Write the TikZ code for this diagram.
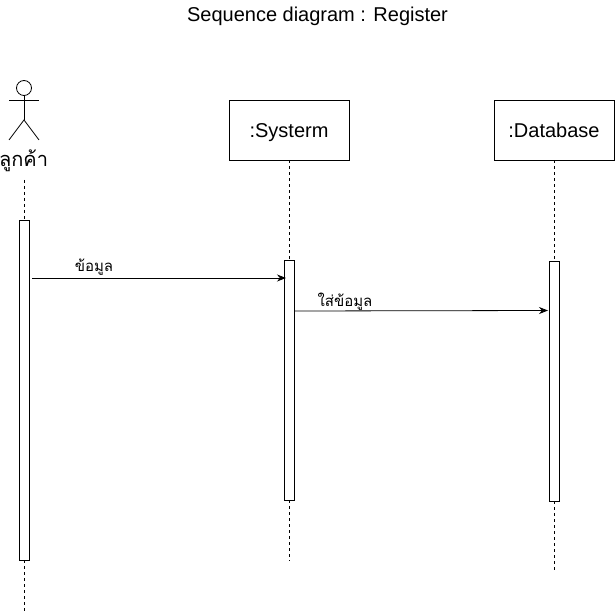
\documentclass[tikz,border=0pt]{standalone}
\usepackage{fontspec}
\setmainfont{Liberation Sans}
\newfontfamily\thaifont[Script=Thai]{Loma}
\usetikzlibrary{arrows.meta, positioning}

\begin{document}
\begin{tikzpicture}[x=1pt, y=-1pt, line width=0.8pt,
  obj/.style={draw,minimum width=120pt,minimum height=60pt,inner sep=0pt,text height=14.5pt,text depth=0pt,font=\fontsize{20}{24}\selectfont},
  bar/.style={draw,fill=white,minimum width=10pt,inner sep=0pt},
  life/.style={dash pattern=on 3pt off 3pt,line width=0.7pt},
  msg/.style={-{Stealth[length=9pt,width=7pt]}},
  lbl/.style={inner sep=0pt,font=\thaifont\fontsize{15}{18}\selectfont}]
  \useasboundingbox (0,0) rectangle (615,612);
  \node[font=\fontsize{20}{24}\selectfont] (title) at (317.5,16) {Sequence diagram : Register};

  % actor
  \node[draw,circle,minimum size=15pt,inner sep=0pt] (head) at (24,88) {};
  \coordinate (hip) at (24,120);
  \coordinate (armL) at (9,100);
  \coordinate (armR) at (39,100);
  \coordinate (legL) at (9,140);
  \coordinate (legR) at (39,140);
  \draw (head.south)--(hip);
  \draw (armL)--(armR);
  \draw (legL)--(hip)--(legR);
  \node[inner sep=0pt,font=\thaifont\fontsize{20}{24}\selectfont] (cust) at (23.5,161) {ลูกค้า};

  % objects
  \node[obj] (sys) at (289,130) {:Systerm};
  \node[obj] (db) at (554,130) {:Database};

  % activation bars
  \node[bar,minimum height=340pt] (barC) at (24,390) {};
  \node[bar,minimum height=240pt] (barS) at (289,380) {};
  \node[bar,minimum height=240pt] (barD) at (554,381) {};

  % lifelines
  \coordinate (custTop) at (24,180);
  \coordinate (custEnd) at (24,612);
  \coordinate (sysEnd) at (289,561);
  \coordinate (dbEnd) at (554,571);
  \draw[life] (custTop)--(barC.north);
  \draw[life] (barC.south)--(custEnd);
  \draw[life] (sys.south)--(barS.north);
  \draw[life] (barS.south)--(sysEnd);
  \draw[life] (db.south)--(barD.north);
  \draw[life] (barD.south)--(dbEnd);

  % messages
  \coordinate (m1a) at (32,278);
  \coordinate (m1b) at (286,278);
  \coordinate (m2a) at (294,311);
  \coordinate (m2b) at (548,310.5);
  \draw[msg] (m1a)--(m1b);
  \draw[msg] (m2a)--(m2b);
  \node[lbl] (m1) at (94,267) {ข้อมูล};
  \node[lbl] (m2) at (345,302) {ใส่ข้อมูล};
\end{tikzpicture}
\end{document}
